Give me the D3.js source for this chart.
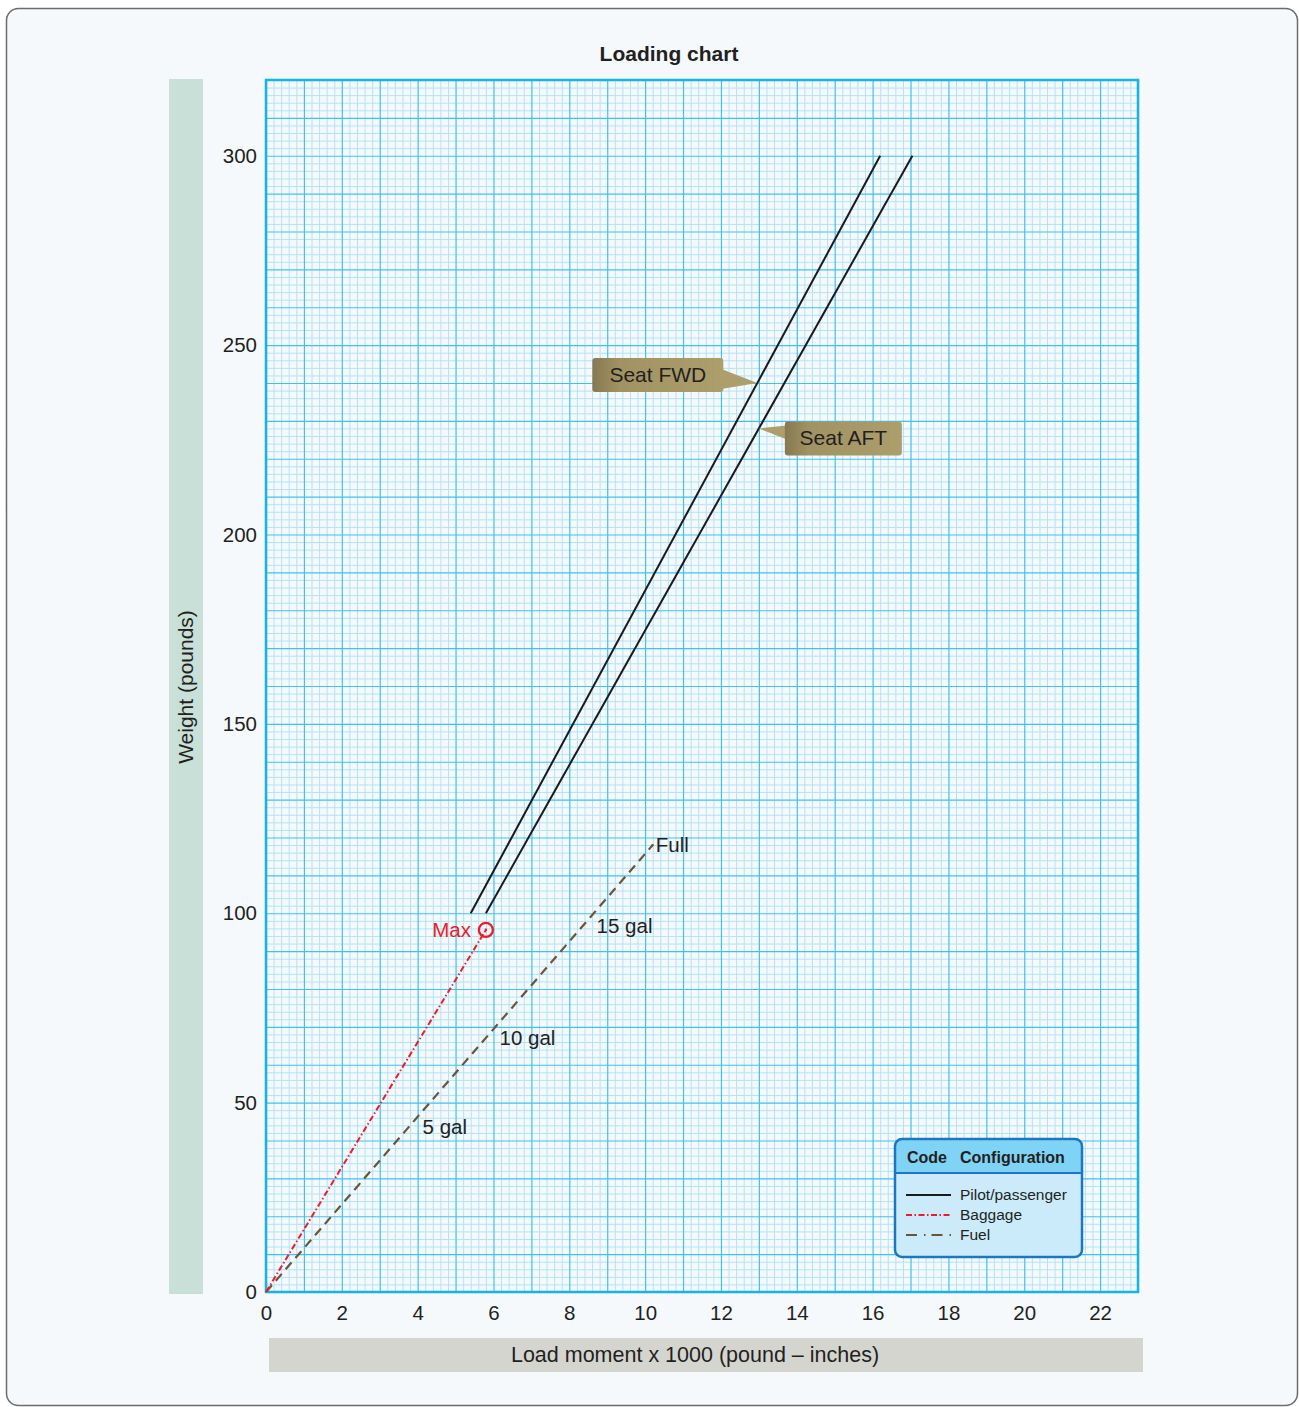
<!DOCTYPE html>
<html>
<head>
<meta charset="utf-8">
<script src="https://cdn.jsdelivr.net/npm/d3@7"></script>
<style>
  html, body { margin: 0; padding: 0; background: #ffffff; }
  svg { display: block; }
  text { font-family: "Liberation Sans", Arial, Helvetica, sans-serif; fill: #231f20; }
</style>
</head>
<body>
<script>
// ---------------- DATA ----------------
const xTickValues = [0, 2, 4, 6, 8, 10, 12, 14, 16, 18, 20, 22];
const yTickValues = [0, 50, 100, 150, 200, 250, 300];
const xDomain = [0, 23];
const yDomain = [0, 320];

// Pilot/passenger lines (moment x1000, weight)
const seatFwd = [[5.4, 100], [16.2, 300]];
const seatAft = [[5.8, 100], [17.05, 300]];
// Baggage line up to maximum
const baggage = [[0, 0], [5.8, 95.6]];
const baggageMax = [5.8, 95.6];
// Fuel line up to full
const fuel = [[0, 0], [10.2, 118]];
// Fuel labels (weight at which each label sits along fuel line)
const fuelLabelText = ["5 gal", "10 gal", "15 gal", "Full"];
const fuelLabelWeight = [43.5, 67, 96.6, 118];
// Callouts: label and weight of pointer tip on its line
const calloutText = ["Seat FWD", "Seat AFT"];
const calloutWeight = [240, 228];

const legendLabels = ["Pilot/passenger", "Baggage", "Fuel"];

// ---------------- LAYOUT ----------------
const W = 1299, H = 1407;
const plot = { left: 266, right: 1138, top: 80, bottom: 1292 };
const FS = 20.5;

const svg = d3.select("body").append("svg").attr("width", W).attr("height", H);
const defs = svg.append("defs");

// background panel
svg.append("rect").attr("x", 6.5).attr("y", 8.5).attr("width", 1291).attr("height", 1397)
  .attr("rx", 12).attr("fill", "#f5f9fc").attr("stroke", "#6b6b6b").attr("stroke-width", 1.5);

const x = d3.scaleLinear().domain(xDomain).range([plot.left, plot.right]);
const y = d3.scaleLinear().domain(yDomain).range([plot.bottom, plot.top]);

// title
svg.append("text").attr("x", 669).attr("y", 61).attr("text-anchor", "middle")
  .attr("font-size", 21).attr("font-weight", "bold").text("Loading chart");

// axis title bands
svg.append("rect").attr("x", 169).attr("y", 79).attr("width", 34).attr("height", 1215).attr("fill", "#c8e0d8");
svg.append("text").attr("transform", "translate(193,687) rotate(-90)").attr("text-anchor", "middle")
  .attr("font-size", 21).text("Weight (pounds)");
svg.append("rect").attr("x", 269).attr("y", 1338).attr("width", 874).attr("height", 34).attr("fill", "#d5d5d0");
svg.append("text").attr("x", 695).attr("y", 1362).attr("text-anchor", "middle")
  .attr("font-size", 21.5).text("Load moment x 1000 (pound \u2013 inches)");

// plot background
svg.append("rect").attr("x", plot.left).attr("y", plot.top)
  .attr("width", plot.right - plot.left).attr("height", plot.bottom - plot.top).attr("fill", "#f5f9fc");

// grid
const g = svg.append("g");
const minorX = d3.range(0, 23.001, 0.2).filter(v => Math.abs(v - Math.round(v)) > 1e-6);
const majorX = d3.range(0, 24, 1);
const minorY = d3.range(0, 320.001, 2).filter(v => v % 10 !== 0);
const majorY = d3.range(0, 330, 10);

function gridX(vals, color, sw) {
  g.append("g").attr("transform", `translate(0,${plot.bottom})`)
    .call(d3.axisBottom(x).tickValues(vals).tickSize(-(plot.bottom - plot.top)).tickFormat(""))
    .call(a => a.select(".domain").remove())
    .call(a => a.selectAll("line").attr("stroke", color).attr("stroke-width", sw));
}
function gridY(vals, color, sw) {
  g.append("g").attr("transform", `translate(${plot.left},0)`)
    .call(d3.axisLeft(y).tickValues(vals).tickSize(-(plot.right - plot.left)).tickFormat(""))
    .call(a => a.select(".domain").remove())
    .call(a => a.selectAll("line").attr("stroke", color).attr("stroke-width", sw));
}
gridX(minorX, "#b2e3f7", 1);
gridY(minorY, "#b2e3f7", 1);
gridX(majorX, "#3fc2ef", 1.2);
gridY(majorY, "#3fc2ef", 1.2);

// plot border
svg.append("rect").attr("x", plot.left).attr("y", plot.top)
  .attr("width", plot.right - plot.left).attr("height", plot.bottom - plot.top)
  .attr("fill", "none").attr("stroke", "#16b2ec").attr("stroke-width", 2.5);

// tick labels
const yAx = svg.append("g").attr("transform", `translate(${plot.left},0)`)
  .call(d3.axisLeft(y).tickValues(yTickValues).tickSize(0).tickPadding(9));
yAx.select(".domain").remove();
yAx.selectAll("text").attr("font-size", FS).attr("font-family", "Liberation Sans, Arial, sans-serif").attr("fill", "#231f20");

const xAx = svg.append("g").attr("transform", `translate(0,${plot.bottom})`)
  .call(d3.axisBottom(x).tickValues(xTickValues).tickSize(0).tickPadding(13));
xAx.select(".domain").remove();
xAx.selectAll("text").attr("font-size", FS).attr("font-family", "Liberation Sans, Arial, sans-serif").attr("fill", "#231f20");

// lines
const line = d3.line().x(d => x(d[0])).y(d => y(d[1]));
const marks = svg.append("g");
const fuelColor = "#6a5636";
marks.append("path").datum(fuel).attr("d", line).attr("fill", "none")
  .attr("stroke", fuelColor).attr("stroke-width", 2.2).attr("stroke-dasharray", "9,6");
marks.append("circle").attr("cx", x(fuel[1][0])).attr("cy", y(fuel[1][1])).attr("r", 1.2).attr("fill", fuelColor);
marks.append("path").datum(baggage).attr("d", line).attr("fill", "none")
  .attr("stroke", "#ee1c25").attr("stroke-width", 2).attr("stroke-dasharray", "6,2.5,1.5,2.5");
marks.append("path").datum(seatFwd).attr("d", line).attr("fill", "none").attr("stroke", "#1a1a1a").attr("stroke-width", 2);
marks.append("path").datum(seatAft).attr("d", line).attr("fill", "none").attr("stroke", "#1a1a1a").attr("stroke-width", 2);

// Max marker
marks.append("circle").attr("cx", x(baggageMax[0])).attr("cy", y(baggageMax[1])).attr("r", 7)
  .attr("fill", "none").attr("stroke", "#ee1c25").attr("stroke-width", 2.3);
marks.append("circle").attr("cx", x(baggageMax[0])).attr("cy", y(baggageMax[1])).attr("r", 1.3).attr("fill", "#ee1c25");
marks.append("text").attr("x", x(baggageMax[0]) - 15).attr("y", y(baggageMax[1]) + 7)
  .attr("text-anchor", "end").attr("font-size", FS).style("fill", "#ee1c25").text("Max");

// fuel labels
const fuelSlope = fuel[1][0] / fuel[1][1];
fuelLabelText.forEach((t, i) => {
  const w = fuelLabelWeight[i];
  const px = x(w * fuelSlope) + (t === "Full" ? 3 : 14);
  marks.append("text").attr("x", px).attr("y", y(w) + 7).attr("font-size", FS).text(t);
});

// callouts
const grad = defs.append("linearGradient").attr("id", "cg").attr("x1", "0").attr("x2", "1").attr("y1", "0").attr("y2", "0");
grad.append("stop").attr("offset", "0").attr("stop-color", "#867951");
grad.append("stop").attr("offset", "0.2").attr("stop-color", "#a09262");
grad.append("stop").attr("offset", "1").attr("stop-color", "#ad9f6c");
const calloutFill = "#ad9f6c";

function pointOnLine(ln, w) {
  const [a, b] = ln;
  const t = (w - a[1]) / (b[1] - a[1]);
  return [a[0] + t * (b[0] - a[0]), w];
}
// Seat FWD (box on the left of the line)
{
  const p = pointOnLine(seatFwd, calloutWeight[0]);
  const tx = x(p[0]), ty = y(p[1]);
  const bw = 131, bh = 34, bx = tx - 34 - bw, by = ty - 25;
  marks.append("path").attr("d", `M${bx + bw - 2},${by + 11} L${tx},${ty} L${bx + bw - 2},${by + 31} Z`).attr("fill", calloutFill);
  marks.append("rect").attr("x", bx).attr("y", by).attr("width", bw).attr("height", bh).attr("rx", 3).attr("fill", "url(#cg)");
  marks.append("text").attr("x", bx + bw / 2).attr("y", by + 24).attr("text-anchor", "middle").attr("font-size", 21).text(calloutText[0]);
}
// Seat AFT (box on the right of the line)
{
  const p = pointOnLine(seatAft, calloutWeight[1]);
  const tx = x(p[0]), ty = y(p[1]);
  const bw = 117, bh = 34, bx = tx + 26, by = ty - 7;
  marks.append("path").attr("d", `M${bx + 2},${by + 4} L${tx},${ty} L${bx + 2},${by + 18} Z`).attr("fill", calloutFill);
  marks.append("rect").attr("x", bx).attr("y", by).attr("width", bw).attr("height", bh).attr("rx", 3).attr("fill", "url(#cg)");
  marks.append("text").attr("x", bx + bw / 2).attr("y", by + 24).attr("text-anchor", "middle").attr("font-size", 21).text(calloutText[1]);
}

// legend
const lg = svg.append("g").attr("transform", "translate(895,1139)");
const LW = 187, LH = 118, HH = 34;
lg.append("rect").attr("width", LW).attr("height", LH).attr("rx", 7).attr("fill", "#cbebfa");
lg.append("path").attr("d", `M0,${HH} L0,7 Q0,0 7,0 L${LW - 7},0 Q${LW},0 ${LW},7 L${LW},${HH} Z`).attr("fill", "#7fd3f5");
lg.append("line").attr("x1", 0).attr("x2", LW).attr("y1", HH).attr("y2", HH).attr("stroke", "#1c77c3").attr("stroke-width", 2);
lg.append("rect").attr("width", LW).attr("height", LH).attr("rx", 7).attr("fill", "none").attr("stroke", "#1c77c3").attr("stroke-width", 2.5);
lg.append("text").attr("x", 12).attr("y", 24).attr("font-size", 16).attr("font-weight", "bold").text("Code");
lg.append("text").attr("x", 65).attr("y", 24).attr("font-size", 16).attr("font-weight", "bold").text("Configuration");
const legendStyles = [
  { stroke: "#1a1a1a", dash: null },
  { stroke: "#ee1c25", dash: "6,2.5,1.5,2.5" },
  { stroke: fuelColor, dash: "11,7,1.5,6" }
];
legendLabels.forEach((t, i) => {
  const yy = 56 + i * 20;
  lg.append("line").attr("x1", 11).attr("x2", 56).attr("y1", yy).attr("y2", yy)
    .attr("stroke", legendStyles[i].stroke).attr("stroke-width", 2)
    .attr("stroke-dasharray", legendStyles[i].dash);
  lg.append("text").attr("x", 65).attr("y", yy + 5).attr("font-size", 15.5).text(t);
});
</script>
</body>
</html>
